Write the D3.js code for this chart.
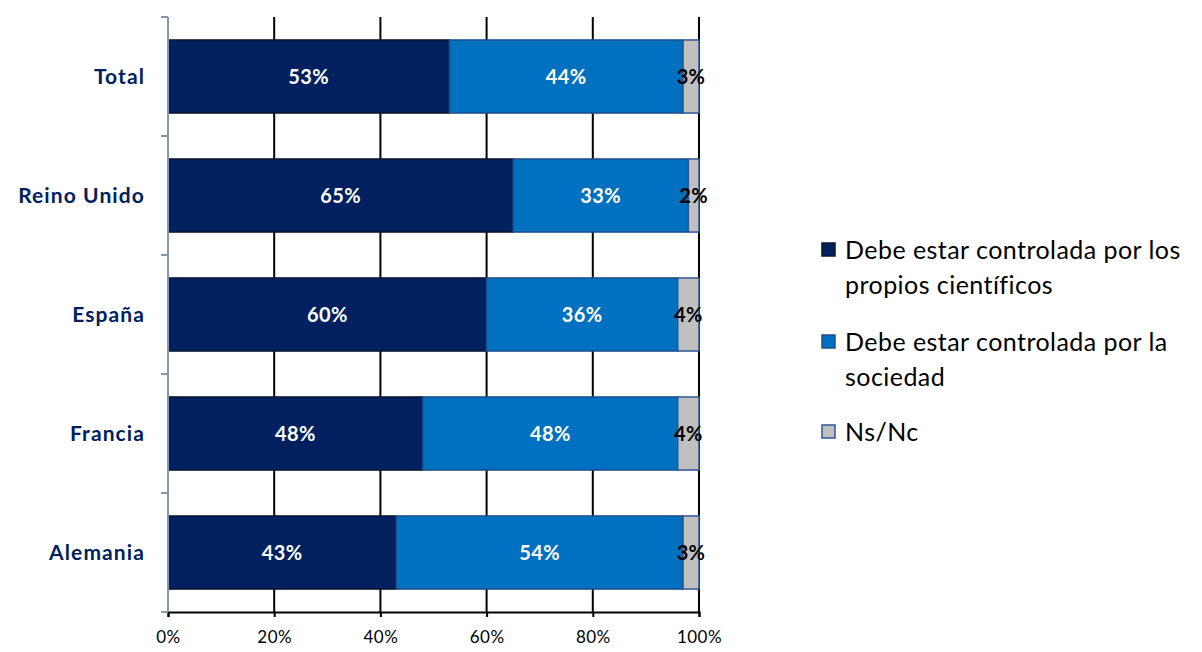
<!DOCTYPE html>
<html><head><meta charset="utf-8">
<script src="https://cdn.jsdelivr.net/npm/d3@7"></script>
<style>body{margin:0;background:#fff;} svg{display:block;}</style>
</head><body>
<svg id="c" width="1202" height="652"></svg>
<script>
const categories = ["Total", "Reino Unido", "España", "Francia", "Alemania"];
const seriesNames = ["Debe estar controlada por los propios científicos", "Debe estar controlada por la sociedad", "Ns/Nc"];
const cientificos = [53, 65, 60, 48, 43];
const sociedad = [44, 33, 36, 48, 54];
const nsnc = [3, 2, 4, 4, 3];
const xTicks = [0, 20, 40, 60, 80, 100];

const colors = ["#002060", "#0070c0", "#c0c0c0"];
const strokes = ["#0a1530", "#1f4e8c", "#2f5597"];
const labelColors = ["#ffffff", "#ffffff", "#000000"];
const legendLines = [["Debe estar controlada por los", "propios científicos"], ["Debe estar controlada por la", "sociedad"], ["Ns/Nc"]];
const font = "Lato, 'Open Sans', sans-serif";

const svg = d3.select("#c");
const L = 168, R = 699, T = 17, B = 612;
const x = d3.scaleLinear().domain([0, 100]).range([L, R]);
const y = d3.scaleBand().domain(categories).range([T, B]).paddingInner(0.386).paddingOuter(0.193);

const series = [cientificos, sociedad, nsnc];
const rows = categories.map((c, i) => {
  let acc = 0;
  return series.map((s, k) => { const d = {cat: c, k, v: s[i], x0: acc, x1: acc + s[i]}; acc += s[i]; return d; });
});

// gridlines
svg.append("g").selectAll("line").data(xTicks.filter(t => t > 0)).join("line")
  .attr("x1", d => x(d)).attr("x2", d => x(d)).attr("y1", T).attr("y2", B)
  .attr("stroke", "#000").attr("stroke-width", 2);

// bars
const g = svg.append("g");
rows.forEach(r => {
  g.selectAll(null).data(r).join("rect")
    .attr("x", d => x(d.x0)).attr("width", d => x(d.x1) - x(d.x0))
    .attr("y", d => y(d.cat)).attr("height", y.bandwidth())
    .attr("fill", d => colors[d.k]).attr("stroke", d => strokes[d.k]).attr("stroke-width", 1.5);
});
rows.forEach(r => {
  g.selectAll(null).data(r).join("text")
    .attr("x", d => (x(d.x0) + x(d.x1)) / 2).attr("y", d => y(d.cat) + y.bandwidth() / 2)
    .attr("dy", "0.36em").attr("text-anchor", "middle")
    .attr("font-family", font).attr("font-weight", "bold").attr("font-size", 20)
    .attr("letter-spacing", 0.4)
    .attr("fill", d => labelColors[d.k]).text(d => d.v + "%");
});

// bottom axis
const xa = svg.append("g").attr("transform", `translate(0,${B})`)
  .call(d3.axisBottom(x).tickValues(xTicks).tickFormat(d => d + "%").tickSize(5).tickPadding(14));
xa.select(".domain").attr("stroke", "#000").attr("stroke-width", 2);
xa.selectAll(".tick line").attr("stroke", "#000").attr("stroke-width", 2);
xa.selectAll("text").attr("font-family", font).attr("font-size", 17).attr("letter-spacing", 0.5).attr("fill", "#000");

// left axis
const boundaries = categories.map(c => y(c) - y.step() * y.paddingInner() / 2).concat([B]);
svg.append("line").attr("x1", L).attr("x2", L).attr("y1", T).attr("y2", B)
  .attr("stroke", "#8497b0").attr("stroke-width", 2);
svg.append("g").selectAll("line").data(boundaries).join("line")
  .attr("x1", L - 7).attr("x2", L).attr("y1", d => d).attr("y2", d => d)
  .attr("stroke", "#8497b0").attr("stroke-width", 2);
svg.append("g").selectAll("text").data(categories).join("text")
  .attr("x", 145).attr("y", d => y(d) + y.bandwidth() / 2).attr("dy", "0.36em")
  .attr("text-anchor", "end").attr("font-family", font).attr("font-weight", "bold")
  .attr("font-size", 21).attr("letter-spacing", 1.1).attr("fill", "#002060").text(d => d);

// legend
const legY = [250, 342, 432];
const lg = svg.append("g");
seriesNames.forEach((n, k) => {
  lg.append("rect").attr("x", 822).attr("y", legY[k] - 7).attr("width", 13).attr("height", 13)
    .attr("fill", colors[k]).attr("stroke", strokes[k]).attr("stroke-width", 1.5);
  legendLines[k].forEach((t, j) => {
    lg.append("text").attr("x", 845).attr("y", legY[k] + j * 35).attr("dy", "0.36em")
      .attr("font-family", font).attr("font-size", 25).attr("letter-spacing", 0.45)
      .attr("fill", "#000").text(t);
  });
});
</script>
</body></html>
